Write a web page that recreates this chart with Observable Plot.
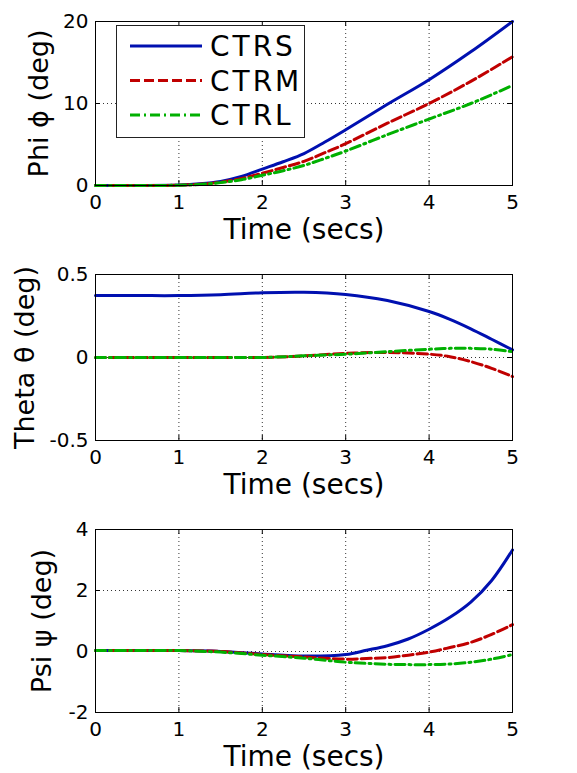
<!DOCTYPE html>
<html><head><meta charset="utf-8">
<script src="https://cdn.jsdelivr.net/npm/d3@7"></script>
<script src="https://cdn.jsdelivr.net/npm/@observablehq/plot@0.6"></script>
<style>
body{margin:0;background:#fff;font-family:"DejaVu Sans",sans-serif;}
#wrap{position:relative;width:577px;}
#wrap svg{display:block;}
#legend{position:absolute;left:116px;top:25px;}
</style></head>
<body><div id="wrap"><div id="legend"></div></div>
<script>
// ---- data ----
const seriesNames = ["CTRS", "CTRM", "CTRL"];
const seriesColors = ["#0010b0", "#c00000", "#00b000"];
const seriesDash = [null, "10,4", "10,4,2,4"];

const timePhi = [0, 0.5, 1, 1.25, 1.5, 1.75, 2, 2.25, 2.5, 2.75, 3, 3.5, 4, 4.5, 5];
const phiCTRS = [0, 0, 0.05, 0.2, 0.5, 1.1, 2.0, 2.9, 3.9, 5.3, 6.8, 9.9, 12.9, 16.3, 20.0];
const phiCTRM = [0, 0, 0.04, 0.15, 0.4, 0.85, 1.5, 2.2, 2.95, 4.0, 5.1, 7.6, 10.0, 12.7, 15.7];
const phiCTRL = [0, 0, 0.03, 0.12, 0.35, 0.7, 1.25, 1.8, 2.45, 3.3, 4.2, 6.2, 8.1, 10.0, 12.2];

const timeTheta = [0, 0.5, 1, 1.5, 2, 2.5, 3, 3.5, 4, 4.25, 4.5, 4.75, 5];
const thetaCTRS = [0.373, 0.373, 0.373, 0.378, 0.39, 0.393, 0.38, 0.343, 0.277, 0.23, 0.173, 0.11, 0.046];
const thetaCTRM = [0, 0, 0, 0, 0, 0.01, 0.025, 0.03, 0.02, 0.005, -0.025, -0.065, -0.115];
const thetaCTRL = [0, 0, 0, 0, 0, 0.01, 0.02, 0.035, 0.05, 0.055, 0.055, 0.05, 0.035];

const timePsi = [0, 0.5, 1, 1.5, 2, 2.5, 3, 3.25, 3.5, 3.75, 4, 4.25, 4.5, 4.75, 5];
const psiCTRS = [0.03, 0.03, 0.03, 0, -0.08, -0.15, -0.1, 0.04, 0.19, 0.41, 0.73, 1.12, 1.62, 2.33, 3.33];
const psiCTRM = [0.03, 0.03, 0.03, 0, -0.1, -0.18, -0.25, -0.23, -0.2, -0.12, -0.02, 0.13, 0.3, 0.56, 0.88];
const psiCTRL = [0.03, 0.03, 0.03, -0.02, -0.12, -0.22, -0.35, -0.39, -0.42, -0.43, -0.43, -0.41, -0.35, -0.25, -0.1];

const xTicks = [0, 1, 2, 3, 4, 5];
const phiTicks = [0, 10, 20];
const thetaTicks = [-0.5, 0, 0.5];
const psiTicks = [-2, 0, 2, 4];
const xLabel = "Time (secs)";

// ---- build ----
function longData(time, arrays) {
  const out = [];
  arrays.forEach((arr, i) => arr.forEach((v, j) => out.push({t: time[j], v, s: seriesNames[i]})));
  return out;
}

function panel({time, arrays, yDomain, yTicks, yLabel, height, mt, mb, ylDx}) {
  const data = longData(time, arrays);
  const W = 577, ml = 95, mr = 65;
  const innerH = height - mt - mb, innerW = W - ml - mr, tl = 5;
  const marks = [
    Plot.gridX(xTicks.slice(1, -1), {stroke: "#000", strokeOpacity: 1, strokeWidth: 0.8, strokeDasharray: "1,3"}),
    Plot.gridY(yTicks.slice(1, -1), {stroke: "#000", strokeOpacity: 1, strokeWidth: 0.8, strokeDasharray: "1,3"}),
    // inward ticks on all four sides
    Plot.tickX(xTicks, {x: d => d, stroke: "#000", insetTop: innerH - tl}),
    Plot.tickX(xTicks, {x: d => d, stroke: "#000", insetBottom: innerH - tl}),
    Plot.tickY(yTicks, {y: d => d, stroke: "#000", insetRight: innerW - tl}),
    Plot.tickY(yTicks, {y: d => d, stroke: "#000", insetLeft: innerW - tl}),
  ];
  seriesNames.forEach((name, i) => {
    marks.push(Plot.line(data.filter(d => d.s === name), {
      x: "t", y: "v", stroke: seriesColors[i], strokeWidth: 3,
      strokeDasharray: seriesDash[i], curve: "catmull-rom"
    }));
  });
  marks.push(
    Plot.frame({stroke: "#000", strokeWidth: 1}),
    Plot.axisX(xTicks, {anchor: "bottom", tickSize: 0, tickPadding: 9, fontSize: 20, label: null}),
    Plot.axisY(yTicks, {anchor: "left", tickSize: 0, tickPadding: 7, fontSize: 20, label: null, tickFormat: d => String(d)}),
    Plot.text([xLabel], {frameAnchor: "bottom", dy: 45, lineAnchor: "middle", textAnchor: "middle", fontSize: 28, text: d => d, fill: "#000"}),
    Plot.text([yLabel], {frameAnchor: "left", dx: ylDx, rotate: -90, lineAnchor: "middle", textAnchor: "middle", fontSize: 27, text: d => d, fill: "#000"})
  );
  return Plot.plot({
    width: W, height, marginLeft: ml, marginRight: mr, marginTop: mt, marginBottom: mb,
    style: {fontFamily: "'DejaVu Sans', sans-serif", background: "#fff", color: "#000", overflow: "visible"},
    x: {domain: [0, 5]},
    y: {domain: yDomain},
    marks
  });
}

const wrap = document.getElementById("wrap");
wrap.appendChild(panel({time: timePhi, arrays: [phiCTRS, phiCTRM, phiCTRL], yDomain: [0, 20], yTicks: phiTicks,
  yLabel: "Phi \u03D5 (deg)", height: 250, mt: 21, mb: 65, ylDx: -56}));
wrap.appendChild(panel({time: timeTheta, arrays: [thetaCTRS, thetaCTRM, thetaCTRL], yDomain: [-0.5, 0.5], yTicks: thetaTicks,
  yLabel: "Theta \u03B8 (deg)", height: 260, mt: 24, mb: 70, ylDx: -70}));
wrap.appendChild(panel({time: timePsi, arrays: [psiCTRS, psiCTRM, psiCTRL], yDomain: [-2, 4], yTicks: psiTicks,
  yLabel: "Psi \u03C8 (deg)", height: 263, mt: 19, mb: 61, ylDx: -53}));

// legend
const lg = d3.select("#legend").append("svg").attr("width", 189).attr("height", 113);
lg.append("rect").attr("x", 0.5).attr("y", 0.5).attr("width", 188).attr("height", 112)
  .attr("fill", "#fff").attr("stroke", "#222");
seriesNames.forEach((name, i) => {
  const y = 21 + i * 34.5;
  lg.append("line").attr("x1", 14).attr("x2", 86).attr("y1", y).attr("y2", y)
    .attr("stroke", seriesColors[i]).attr("stroke-width", 3).attr("stroke-dasharray", seriesDash[i]);
  lg.append("text").attr("x", 94).attr("y", y).attr("dy", "0.36em")
    .attr("font-size", 28).attr("font-family", "'DejaVu Sans', sans-serif").attr("letter-spacing", 3)
    .text(name);
});
</script>
</body></html>
